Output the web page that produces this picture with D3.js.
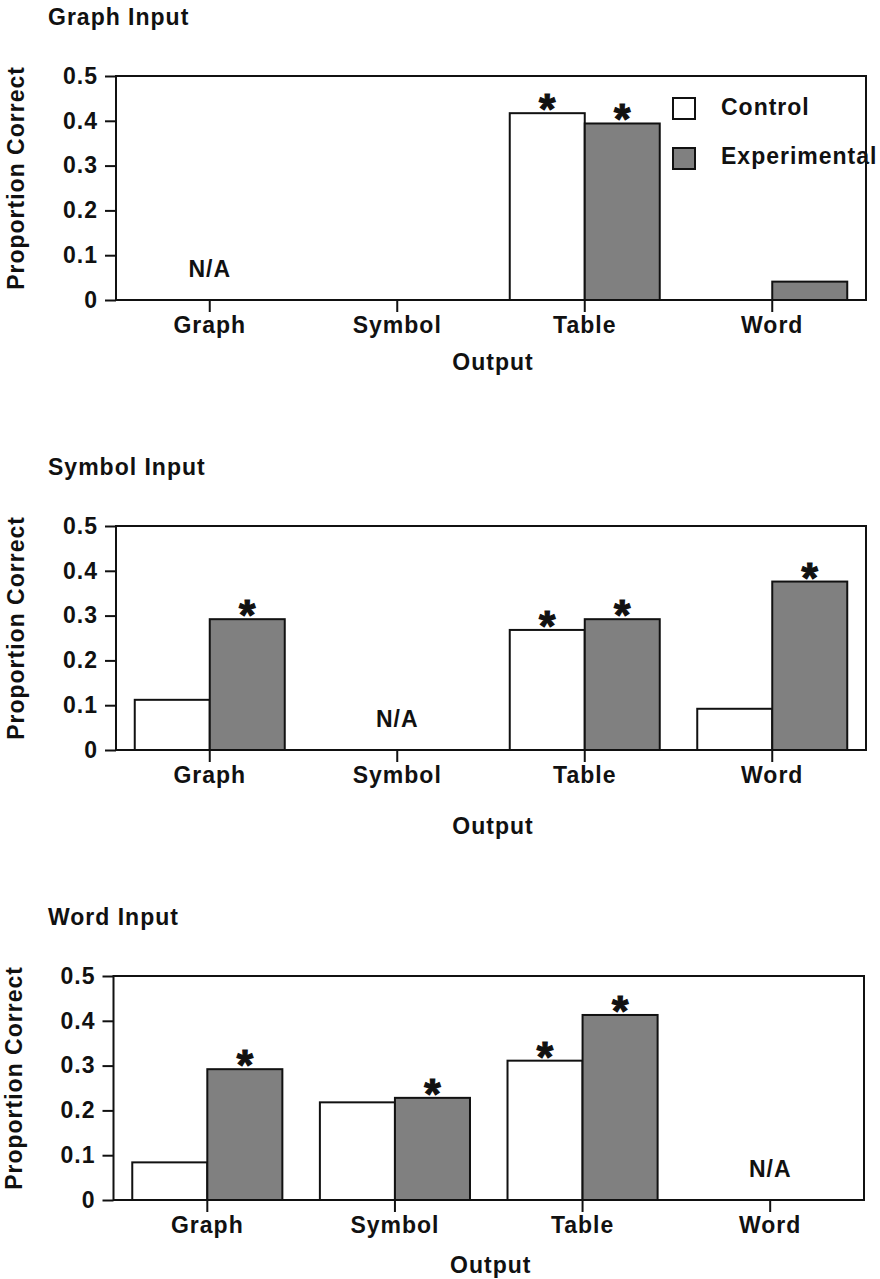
<!DOCTYPE html>
<html>
<head>
<meta charset="utf-8">
<script src="https://cdn.jsdelivr.net/npm/d3@7/dist/d3.min.js"></script>
<style>
  html, body { margin: 0; padding: 0; background: #fff; }
  svg text { font-family: "Liberation Sans", Arial, Helvetica, sans-serif; font-weight: bold; fill: #111; letter-spacing: 1px; }
</style>
</head>
<body>
<svg id="chart" width="880" height="1279"></svg>
<script>
// Output formats along the x axis
const outputs = ["Graph", "Symbol", "Table", "Word"];
const groups = ["Control", "Experimental"];
const yTicks = [0, 0.1, 0.2, 0.3, 0.4, 0.5];

// One panel per input format; null marks a combination that does not apply
const panelTitles = ["Graph Input", "Symbol Input", "Word Input"];
const controlValues = [
  [null, 0, 0.417, 0],
  [0.112, null, 0.268, 0.092],
  [0.084, 0.218, 0.311, null]
];
const experimentalValues = [
  [null, 0, 0.394, 0.041],
  [0.292, null, 0.292, 0.376],
  [0.292, 0.228, 0.413, null]
];
// Significant differences flagged with an asterisk
const controlStars = [
  [false, false, true, false],
  [false, false, true, false],
  [false, false, true, false]
];
const experimentalStars = [
  [false, false, true, false],
  [true, false, true, true],
  [true, true, true, false]
];
const naOutputs = ["Graph", "Symbol", "Word"];

const svg = d3.select("#chart");
const fills = { Control: "#ffffff", Experimental: "#808080" };
const FS = "23px";

const panelTop = [76, 526, 976];
const panelLeft = [116, 116, 113.5];
const panelRight = [866, 866, 864];
const plotH = 224;
const outputLabelGap = [70, 84, 73];

panelTitles.forEach((title, i) => {
  const top = panelTop[i], bottom = top + plotH;
  const left = panelLeft[i], right = panelRight[i];

  const x = d3.scaleBand(outputs, [left, right]).padding(0);
  const xs = d3.scaleBand(groups, [0, x.bandwidth()]).paddingInner(0).paddingOuter(0.25);
  const y = d3.scaleLinear([0, 0.5], [bottom, top]);

  const g = svg.append("g");

  // panel title
  g.append("text").attr("x", 48).attr("y", top - 51)
    .style("font-size", FS).text(title);

  // bars
  const rows = [];
  outputs.forEach((o, j) => {
    rows.push({ o, grp: "Control", v: controlValues[i][j], star: controlStars[i][j] });
    rows.push({ o, grp: "Experimental", v: experimentalValues[i][j], star: experimentalStars[i][j] });
  });
  const bars = rows.filter(d => d.v !== null && d.v > 0);

  g.selectAll("rect.bar").data(bars).join("rect")
    .attr("class", "bar")
    .attr("x", d => x(d.o) + xs(d.grp))
    .attr("width", xs.bandwidth())
    .attr("y", d => y(d.v))
    .attr("height", d => y(0) - y(d.v))
    .attr("fill", d => fills[d.grp])
    .attr("stroke", "#111")
    .attr("stroke-width", 2);

  // asterisks above significant bars
  g.selectAll("text.star").data(bars.filter(d => d.star)).join("text")
    .attr("class", "star")
    .attr("x", d => x(d.o) + xs(d.grp) + xs.bandwidth() / 2)
    .attr("y", d => y(d.v) + 10)
    .attr("text-anchor", "middle")
    .style("font-size", "42px")
    .style("letter-spacing", "0px")
    .attr("stroke", "#111").attr("stroke-width", 1.2)
    .text("*");

  // N/A marker
  g.append("text")
    .attr("x", x(naOutputs[i]) + x.bandwidth() / 2)
    .attr("y", bottom - 23)
    .attr("text-anchor", "middle")
    .style("font-size", FS)
    .text("N/A");

  // frame
  g.append("rect").attr("x", left).attr("y", top)
    .attr("width", right - left).attr("height", plotH)
    .attr("fill", "none").attr("stroke", "#111").attr("stroke-width", 2);

  // y axis
  const yAxis = g.append("g").attr("transform", `translate(${left},0)`)
    .call(d3.axisLeft(y).tickValues(yTicks)
      .tickFormat(d => d === 0 ? "0" : d3.format(".1f")(d))
      .tickSize(11).tickPadding(7));
  yAxis.select(".domain").remove();
  yAxis.selectAll("line").attr("stroke", "#111").attr("stroke-width", 2);
  yAxis.selectAll("text").style("font-size", FS).style("font-family", null).attr("fill", "#111");

  // x axis
  const xAxis = g.append("g").attr("transform", `translate(0,${bottom})`)
    .call(d3.axisBottom(x).tickSize(12).tickPadding(5));
  xAxis.select(".domain").remove();
  xAxis.selectAll("line").attr("stroke", "#111").attr("stroke-width", 2);
  xAxis.selectAll("text").style("font-size", FS).style("font-family", null).attr("fill", "#111");

  // axis titles
  g.append("text")
    .attr("x", (left + right) / 2 + 2)
    .attr("y", bottom + outputLabelGap[i])
    .attr("text-anchor", "middle")
    .style("font-size", FS)
    .text("Output");

  g.append("text")
    .attr("transform", `translate(${left - 92},${(top + bottom) / 2 - 10}) rotate(-90)`)
    .attr("text-anchor", "middle")
    .style("font-size", FS)
    .text("Proportion Correct");

  // legend on the first panel only
  if (i === 0) {
    const lg = g.append("g");
    groups.forEach((grp, k) => {
      lg.append("rect")
        .attr("x", 673).attr("y", 98 + k * 50)
        .attr("width", 22).attr("height", 21)
        .attr("fill", fills[grp]).attr("stroke", "#111").attr("stroke-width", 2);
      lg.append("text")
        .attr("x", 721).attr("y", 115 + k * 49)
        .style("font-size", FS)
        .text(grp);
    });
  }
});
</script>
</body>
</html>
